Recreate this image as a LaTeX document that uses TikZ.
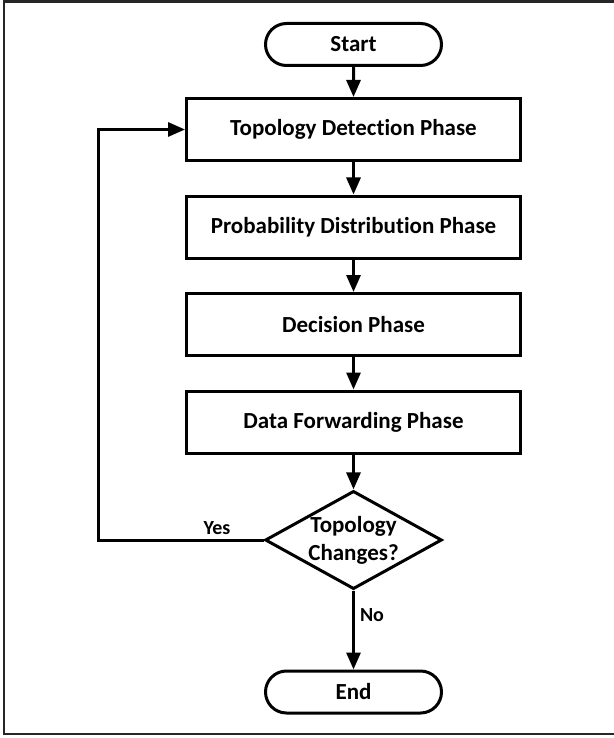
\documentclass[tikz,border=0pt]{standalone}
\usepackage{fontspec}
\setmainfont{Carlito}[Ligatures=NoCommon]
\usetikzlibrary{arrows.meta,shapes.geometric,shapes.misc}
\begin{document}
\begin{tikzpicture}[x=1pt,y=-1pt,
  every node/.style={font=\bfseries\fontsize{23}{26}\selectfont, line width=3pt, draw=black, fill=white, inner sep=0pt},
  phase/.style={rectangle, minimum width=334pt, minimum height=62pt},
  terminal/.style={rounded rectangle, minimum width=176pt, minimum height=42pt},
  decision/.style={diamond, aspect=1.8, minimum width=176pt, minimum height=97pt, align=center, font=\bfseries\fontsize{23}{27}\selectfont},
  flow/.style={line width=3pt, -{Triangle[length=17pt,width=14pt]}},
  tag/.style={draw=none, fill=none, font=\bfseries\fontsize{20}{22}\selectfont}
]
\useasboundingbox (0,0) rectangle (613,738);
% outer frame, its right side runs off the page
\draw[line width=2.5pt, draw=black!85] (4,1.5) rectangle (640,734);

\node[terminal] (start) at (353.5,44.5) {Start};
\node[phase] (topo) at (353.5,129.5) {Topology Detection Phase};
\node[phase] (prob) at (353.5,227) {Probability Distribution Phase};
\node[phase] (dec) at (353.5,324.5) {Decision Phase};
\node[phase] (fwd) at (353.5,422) {Data Forwarding Phase};
\node[decision] (chg) at (353.5,540) {Topology\\[1pt]Changes?};
\node[terminal] (end) at (353.5,692) {End};
\coordinate (loop) at (98,0);

\draw[flow] (start) -- (topo);
\draw[flow] (topo) -- (prob);
\draw[flow] (prob) -- (dec);
\draw[flow] (dec) -- (fwd);
\draw[flow] (fwd) -- (chg);
\draw[flow] (chg) -- (end);
\node[tag] (no) at (372,615) {No};
\draw[flow] (chg.west) -| (loop |- chg.west) |- (topo.west);
\node[tag] (yes) at (217,528) {Yes};
\end{tikzpicture}
\end{document}
